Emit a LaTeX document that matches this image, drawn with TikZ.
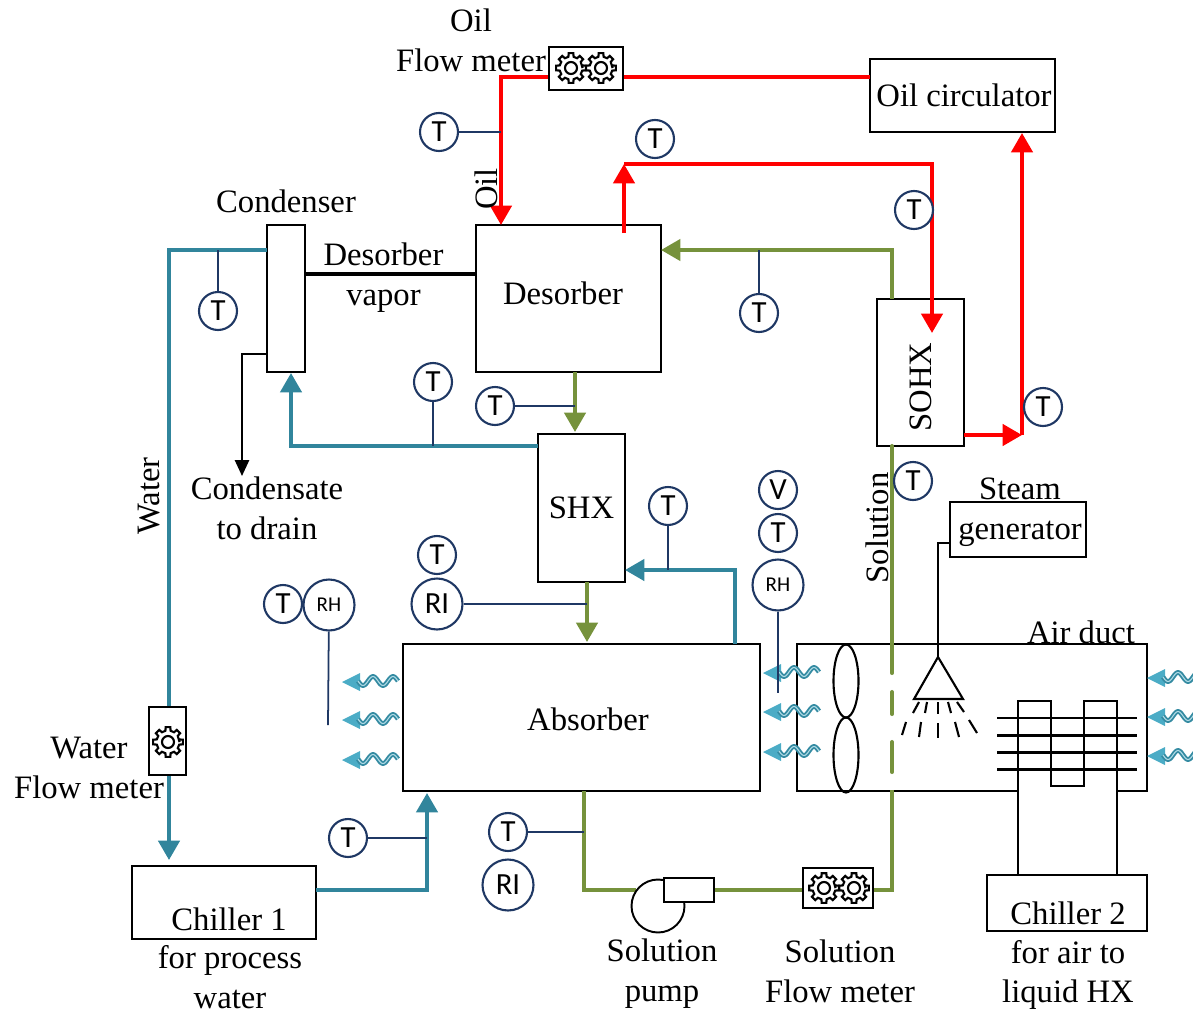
\documentclass[tikz,border=0pt]{standalone}
\usepackage{fontspec}
\setmainfont{Liberation Serif}
\newfontfamily\sensorfont{Carlito}
\usetikzlibrary{arrows.meta,calc}
\definecolor{oilred}{HTML}{FF0000}
\definecolor{watertl}{HTML}{31859C}
\definecolor{solgrn}{HTML}{76923C}
\definecolor{signavy}{HTML}{1F3864}
\definecolor{airblue}{HTML}{4BACC6}

\begin{document}
\begin{tikzpicture}[
    x=0.02cm, y=-0.02cm,
    font=\fontsize{18.6}{22.7}\selectfont,
    box/.style={draw, line width=1.1pt, fill=white, inner sep=0pt, align=center},
    lbl/.style={inner sep=0pt, align=center},
    sens/.style={draw=signavy, line width=1.2pt, fill=white, circle, inner sep=0pt,
                 minimum size=0.76cm, font=\fontsize{17.5}{20}\sensorfont},
    bigsens/.style={sens, minimum size=1.02cm},
    rhsens/.style={bigsens, font=\fontsize{12}{14}\sensorfont},
    sig/.style={signavy, line width=1pt},
    oil/.style={oilred, line width=2.3pt},
    water/.style={watertl, line width=2.3pt},
    sol/.style={solgrn, line width=2.3pt},
    wire/.style={black, line width=1.2pt},
    tip/.style={-{Triangle[length=11pt, width=12pt]}},
    gear/.pic={
      \draw[line width=1.2pt, fill=white] (0:11.5)
        \foreach \a in {0,45,...,315} {
          -- (\a-13:11.5) -- (\a-9:15) -- (\a+9:15) -- (\a+13:11.5) }
        -- cycle;
      \draw[line width=1.2pt] (0,0) circle (6);
    },
    airwave/.pic={
      \fill[airblue] (0,0) -- (18,-9) -- (18,9) -- cycle;
      \draw[watertl!85!airblue, line width=2.7pt] plot[domain=16:56, samples=41]
        (\x, {4.5*sin((\x-16)*18)-1});
      \draw[airblue!45!white, line width=0.6pt] plot[domain=16:56, samples=41]
        (\x, {4.5*sin((\x-16)*18)-1});
    },
  ]
    \clip (0,0) rectangle (1193,1014);

    % Main components
    \node[box, minimum width=3.7cm, minimum height=1.46cm] (oilcirc) at (962.5,95.5) {};
    \node[box, minimum width=0.76cm, minimum height=2.94cm] (cond) at (286,298.5) {};
    \node[box, minimum width=3.7cm, minimum height=2.94cm] (des) at (568.5,298.5) {};
    \node[box, minimum width=1.74cm, minimum height=2.94cm] (sohx) at (920.5,372.5) {};
    \node[box, minimum width=1.74cm, minimum height=2.96cm] (shx) at (581.5,508) {SHX};
    \node[box, minimum width=7.14cm, minimum height=2.94cm] (abs) at (581.5,717.5) {};
    \node[box, minimum width=7cm, minimum height=2.94cm] (duct) at (972,717.5) {};
    \node[box, minimum width=2.72cm, minimum height=1.1cm] (steam) at (1018,529.5) {};
    \node[box, minimum width=3.68cm, minimum height=1.46cm] (chillA) at (224,902.5) {};
    \node[box, minimum width=3.2cm, minimum height=1.12cm] (chillB) at (1067,903) {};

    % Ports on the pipes
    \coordinate (oilL) at (549,77);
    \coordinate (oilR) at (623,77);
    \coordinate (oilin) at (501,225);
    \coordinate (oilout) at (870,77);
    \coordinate (desout) at (624,233);
    \coordinate (desup) at (624,164);
    \coordinate (sohxin) at (932,333);
    \coordinate (sohxout) at (964,435);
    \coordinate (oilback) at (1022,133);
    \coordinate (condW) at (267,250);
    \coordinate (wmtop) at (169,707);
    \coordinate (wmbot) at (169,775);
    \coordinate (chillin) at (169,860);
    \coordinate (chillout) at (316,890);
    \coordinate (absin) at (427,793);
    \coordinate (shxW) at (538,446);
    \coordinate (condin) at (291,373);
    \coordinate (absW) at (735,644);
    \coordinate (shxin) at (625,570);
    \coordinate (shxtop) at (575,432);
    \coordinate (desbot) at (575,372);
    \coordinate (shxbot) at (587,582);
    \coordinate (abstop) at (587,642);
    \coordinate (sohxtop) at (892,299);
    \coordinate (desin) at (661,250);
    \coordinate (sohxbot) at (892,446);
    \coordinate (solA) at (892,673);
    \coordinate (solB) at (892,692);
    \coordinate (solC) at (892,714);
    \coordinate (solD) at (892,742);
    \coordinate (solE) at (892,772);
    \coordinate (solF) at (892,790);
    \coordinate (smR) at (873,890);
    \coordinate (smL) at (803,890);
    \coordinate (pumpR) at (714,890);
    \coordinate (pumpL) at (636,890);
    \coordinate (absbot) at (584,791);

    % Oil loop
    \draw[oil, tip] (oilL) -| (oilin);
    \draw[oil] (oilR) -- (oilout);
    \draw[oil, tip] (desout) -- (desup);
    \draw[oil, tip] (desup) -| (sohxin);
    \draw[oil, tip] (sohxout) -- (sohxout -| oilback);
    \draw[oil, tip] (sohxout -| oilback) -- (oilback);

    % Water loop
    \draw[water] (condW) -| (wmtop);
    \draw[water, tip] (wmbot) -- (chillin);
    \draw[water, tip] (chillout) -| (absin);
    \draw[water, tip] (shxW) -| (condin);
    \draw[water, tip] (absW) |- (shxin);

    % Solution loop
    \draw[sol, tip] (desbot) -- (shxtop);
    \draw[sol, tip] (shxbot) -- (abstop);
    \draw[sol, tip] (sohxtop) |- (desin);
    \draw[sol, line cap=round] (sohxbot) -- (solA);
    \draw[sol, line cap=round] (solB) -- (solC);
    \draw[sol, line cap=round] (solD) -- (solE);
    \draw[sol] (solF) |- (smR);
    \draw[sol] (smL) -- (pumpR);
    \draw[sol] (pumpL) -| (absbot);

    % Flow meters and pump
    \node[box, minimum width=1.48cm, minimum height=0.86cm] (oilmeter) at (586,68.5) {};
    \pic at (571,68) {gear};
    \pic at (601,68) {gear};
    \node[box, minimum width=1.4cm, minimum height=0.8cm] (solmeter) at (838,888) {};
    \pic at (824,888) {gear};
    \pic at (854,888) {gear};
    \node[box, minimum width=0.74cm, minimum height=1.36cm] (watermeter) at (167.5,741) {};
    \pic at (168,742) {gear};
    \node[box, circle, minimum size=1.06cm] (pumpcase) at (658,906) {};
    \node[box, minimum width=1cm, minimum height=0.48cm] (pumphead) at (689,890) {};

    % Desorber vapor, condensate, steam
    \draw[black, line width=2.5pt] (cond.east |- 0,274) -- (des.west |- 0,274);
    \coordinate (drain) at (242,476);
    \draw[wire, -{Triangle[length=9pt, width=8pt]}] (cond.west |- 0,354) -| (drain);
    \coordinate (nozzle) at (938,657);
    \draw[wire] (steam.west |- 0,543) -| (nozzle);
    \draw[wire, fill=white] (nozzle) -- (914,699) -- (963,699) -- cycle;
    \foreach \a/\b/\c/\d/\e/\f/\g/\h in {
        919/702/913/713/906/722/902/735,
        927/702/925/713/921/722/919/737,
        938/702/938/714/938/723/938/738,
        948/702/951/713/955/722/959/737,
        957/702/964/712/969/720/977/733} {
      \draw[wire] (\a,\b) -- (\c,\d);
      \draw[wire] (\e,\f) -- (\g,\h);
    }

    % Fan and air to liquid coil
    \draw[wire] (846,681) ellipse (12.5 and 36.5);
    \draw[wire] (846,755) ellipse (12.5 and 37.5);
    \foreach \y in {718,735.5,752.5,769.5}
      \draw[wire] (997,\y) -- (1137,\y);
    \draw[white, line width=2pt] (1019,791) -- (1116,791);
    \coordinate (coilA) at (1018,875);
    \coordinate (coilB) at (1117,875);
    \draw[wire] (coilA) -- (1018,701) -- (1051,701) -- (1051,786) -- (1084,786)
      -- (1084,701) -- (1117,701) -- (coilB);

    % Air streams
    \foreach \y in {682,720,760}
      \pic at (342,\y) {airwave};
    \foreach \y in {673,712,752}
      \pic at (763,\y) {airwave};
    \foreach \y in {678,717,756}
      \pic at (1147,\y) {airwave};

    % Sensors
    \node[sens] (tA) at (439,132) {T};
    \node[sens] (tB) at (655,139) {T};
    \node[sens] (tC) at (914,210) {T};
    \node[sens] (tD) at (218,311) {T};
    \node[sens] (tE) at (759,313) {T};
    \node[sens] (tF) at (433,382) {T};
    \node[sens] (tG) at (495,406) {T};
    \node[sens] (tH) at (1043,407) {T};
    \node[sens] (tI) at (913,481) {T};
    \node[sens] (tJ) at (668,506) {T};
    \node[sens] (vA) at (778,490) {V};
    \node[sens] (tK) at (778,533) {T};
    \node[rhsens] (rhA) at (778,585) {RH};
    \node[sens] (tL) at (437,555) {T};
    \node[bigsens] (riA) at (437,604) {RI};
    \node[sens] (tM) at (283,604) {T};
    \node[rhsens] (rhB) at (329,605) {RH};
    \node[sens] (tN) at (348,838) {T};
    \node[sens] (tO) at (508,832) {T};
    \node[bigsens] (riB) at (508,885) {RI};

    \draw[sig] (tA) -- (tA -| oilin);
    \draw[sig] (tD) -- (tD |- condW);
    \draw[sig] (tE) -- (tE |- desin);
    \draw[sig] (tF) -- (tF |- shxW);
    \draw[sig] (tG) -- (tG -| desbot);
    \draw[sig] (tJ) -- (tJ |- shxin);
    \draw[sig] (rhA) -- (778,693);
    \draw[sig] (riA) -- (riA -| shxbot);
    \draw[sig] (rhB) -- (328,725);
    \draw[sig] (tN) -- (tN -| absin);
    \draw[sig] (tO) -- (tO -| absbot);

    % Labels
    \node[lbl] (oillbl) at (471,40) {Oil\\Flow meter};
    \node[lbl] (circlbl) at (964,95.5) {Oil circulator};
    \node[lbl] (condlbl) at (286,201) {Condenser};
    \node[lbl] (vaplbl) at (383.5,277.5) {Desorber\\vapor};
    \node[lbl] (deslbl) at (563,293) {Desorber};
    \node[lbl] (abslbl) at (588,719) {Absorber};
    \node[lbl, rotate=90] (oilrot) at (486,189) {Oil};
    \node[lbl, rotate=90] (sohxlbl) at (921,387) {SOHX};
    \node[lbl, rotate=90] (waterrot) at (149,496) {Water};
    \node[lbl, rotate=90] (solrot) at (877,528) {Solution};
    \node[lbl] (drainlbl) at (267,508.5) {Condensate\\to drain};
    \node[lbl] (steamlbl) at (1020,512.5) {Steam\\generator};
    \node[lbl] (ductlbl) at (1081,632) {Air duct};
    \node[lbl] (wmlbl) at (89,768) {Water\\Flow meter};
    \node[lbl] (chillAname) at (229,919) {Chiller 1};
    \node[lbl] (chillAuse) at (230,977.5) {for process\\water};
    \node[lbl] (pumplbl) at (662,973.5) {Solution\\pump};
    \node[lbl] (smlbl) at (840,971) {Solution\\Flow meter};
    \node[lbl] (chillBname) at (1068,913) {Chiller 2};
    \node[lbl] (chillBuse) at (1068,975) {for air to\\liquid HX};
  \end{tikzpicture}
\end{document}
